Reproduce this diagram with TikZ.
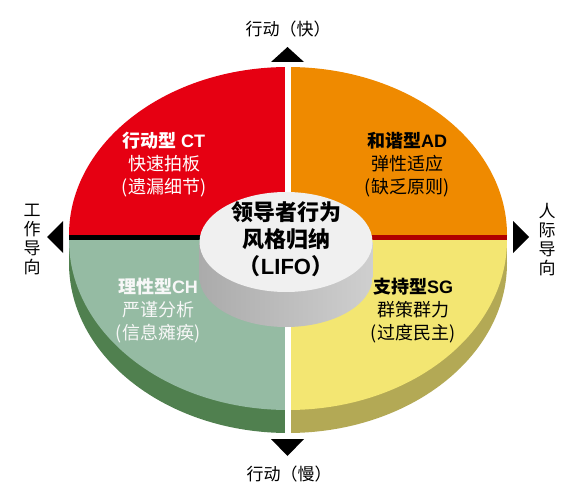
\documentclass[tikz,border=0pt]{standalone}
\usepackage{fontspec}
\setmainfont{Noto Sans CJK SC}
\newfontfamily\latinfont{Liberation Sans}[BoldFont={Liberation Sans Bold}]
\usepackage{tikz}
\usetikzlibrary{positioning,calc}
\definecolor{QuadRed}{HTML}{E60012}
\definecolor{QuadOrange}{HTML}{EF8A00}
\definecolor{QuadGreen}{HTML}{95BBA3}
\definecolor{QuadYellow}{HTML}{F3E672}
\definecolor{SideGreen}{HTML}{50804F}
\definecolor{SideYellow}{HTML}{B3A955}
\definecolor{BandRed}{HTML}{B00000}
\definecolor{DiskTop}{HTML}{F0F0F0}
\definecolor{DiskSideL}{HTML}{ABABAB}
\definecolor{DiskSideR}{HTML}{CFCFCF}

\begin{document}
\begin{tikzpicture}[x=1pt,y=-1pt,
    quadtext/.style={align=center, font=\fontsize{18}{23}\selectfont},
    axislabel/.style={align=center, font=\fontsize{17}{19}\selectfont},
    marker/.style={fill=black}]
  \useasboundingbox[fill=white] (0,0) rectangle (570,497);

  % side of the lower half
  \begin{scope}
    \clip (60,240) rectangle (288,440);
    \fill[SideGreen] (288,263) ellipse [x radius=219, y radius=170];
    \fill[SideGreen] (69,240) rectangle (288,263);
  \end{scope}
  \begin{scope}
    \clip (288,240) rectangle (515,440);
    \fill[SideYellow] (288,263) ellipse [x radius=219, y radius=170];
    \fill[SideYellow] (288,240) rectangle (507,263);
  \end{scope}

  % top surface
  \begin{scope}
    \clip (60,240) rectangle (288,440);
    \fill[QuadGreen] (288,240) ellipse [x radius=219, y radius=170];
  \end{scope}
  \begin{scope}
    \clip (288,240) rectangle (515,440);
    \fill[QuadYellow] (288,240) ellipse [x radius=219, y radius=170];
  \end{scope}
  \begin{scope}
    \clip (60,40) rectangle (288,235);
    \fill[QuadRed] (288,235) ellipse [x radius=219, y radius=168];
  \end{scope}
  \begin{scope}
    \clip (288,40) rectangle (515,235);
    \fill[QuadOrange] (288,235) ellipse [x radius=219, y radius=168];
  \end{scope}
  \fill[black] (69,234.5) rectangle (288,240);
  \fill[BandRed] (288,234.5) rectangle (506.5,240);
  \fill[white] (285,64) rectangle (290.5,436);

  % centre disk
  \begin{scope}
    \clip (190,242) rectangle (380,335);
    \shade[left color=DiskSideL, right color=DiskSideR]
      (286,277) ellipse [x radius=86.5, y radius=50];
    \shade[left color=DiskSideL, right color=DiskSideR]
      (199.5,242) rectangle (372.5,277);
  \end{scope}
  \fill[DiskTop] (286,242) ellipse [x radius=86.5, y radius=50];

  \node[align=center, font=\fontsize{22}{27}\selectfont\bfseries] (hub) at (286,239)
    {领导者行为\\风格归纳\\（{\latinfont\bfseries LIFO}）};

  \node[quadtext, text=white] (ct) at (164,165)
    {\textbf{行动型 {\latinfont\bfseries CT}}\\快速拍板\\(遗漏细节)};
  \node[quadtext, text=black] (ad) at (407,165)
    {\textbf{和谐型{\latinfont\bfseries AD}}\\弹性适应\\(缺乏原则)};
  \node[quadtext, text=white!94!gray] (ch) at (158,311)
    {\textbf{理性型{\latinfont\bfseries CH}}\\严谨分析\\(信息瘫痪)};
  \node[quadtext, text=black] (sg) at (413,311)
    {\textbf{支持型{\latinfont\bfseries SG}}\\群策群力\\(过度民主)};

  % axis markers
  \fill[marker] (271,62) -- (287.5,47) -- (304,62) -- cycle;
  \fill[marker] (271,439) -- (287.5,456) -- (304,439) -- cycle;
  \fill[marker] (63,221) -- (47,237) -- (63,253) -- cycle;
  \fill[marker] (513,221) -- (529,237) -- (513,253) -- cycle;

  \node[axislabel] (fast) at (288,29) {行动（快）};
  \node[axislabel] (slow) at (289,474) {行动（慢）};
  \node[axislabel] (task) at (32,240) {工\\作\\导\\向};
  \node[axislabel] (people) at (547,240) {人\\际\\导\\向};
\end{tikzpicture}
\end{document}
